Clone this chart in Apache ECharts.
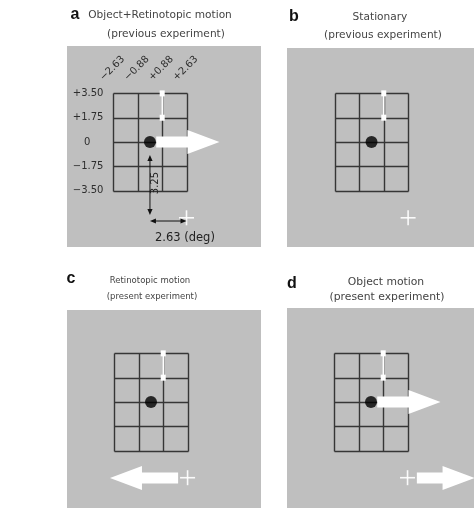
<!DOCTYPE html>
<html>
<head>
<meta charset="utf-8">
<script src="https://cdn.jsdelivr.net/npm/echarts@6/dist/echarts.min.js"></script>
<style>
  html, body { margin: 0; padding: 0; background: #ffffff; }
  #chart { width: 474px; height: 511px; }
</style>
</head>
<body>
<div id="chart"></div>
<script>
// Stimulus geometry, in degrees of visual angle
const colTicks = [-2.63, -0.88, 0.88, 2.63];
const colLabels = ['−2.63', '−0.88', '+0.88', '+2.63'];
const rowTicks = [3.50, 1.75, 0, -1.75, -3.50];
const rowLabels = ['+3.50', '+1.75', '0', '−1.75', '−3.50'];

const target = [0, 0];             // black disc
const probe = [0.88, 3.50, 1.75];  // white probe: x, upper y, lower y
const fixation = [2.63, -5.45];    // fixation cross

// Motion arrows: [x start, y, x tip]
const objectArrow = [0.45, 0, 5.0];
const retinotopicArrow = [1.95, -5.47, -2.95];
const fixationArrow = [3.3, -5.47, 7.45];
const panelArrows = [[objectArrow], [], [retinotopicArrow], [objectArrow, fixationArrow]];

// Distance annotations (panel a)
const verticalDistance = [0, -0.94, -5.25];      // x, y from, y to
const verticalDistanceLabel = '3.25';
const horizontalDistance = [-5.68, 0, fixation[0]]; // y, x from, x to
const horizontalDistanceLabel = '2.63 (deg)';

const panelLetters = ['a', 'b', 'c', 'd'];
const panelTitles = ['Object+Retinotopic motion', 'Stationary', 'Retinotopic motion', 'Object motion'];
const panelSubtitles = ['(previous experiment)', '(previous experiment)', '(present experiment)', '(present experiment)'];

// ---- layout ----
const FONT = '"DejaVu Sans", Verdana, sans-serif';
const panels = [
  { left: 67,  top: 46,  width: 194, height: 201, x: [-5.97, 7.99], y: [-7.55, 6.91] },
  { left: 287, top: 48,  width: 187, height: 199, x: [-6.08, 7.37], y: [-7.55, 6.76] },
  { left: 67,  top: 310, width: 194, height: 198, x: [-6.04, 7.91], y: [-7.63, 6.62] },
  { left: 287, top: 308, width: 187, height: 200, x: [-6.04, 7.41], y: [-7.63, 6.76] }
];
const headings = [
  { letter: [75, 15],  title: [160, 15],  sub: [166, 34],  size: 10.6 },
  { letter: [294, 17], title: [380, 17],  sub: [383, 35],  size: 10.6 },
  { letter: [71, 279], title: [150, 281], sub: [152, 297], size: 8.5 },
  { letter: [292, 284], title: [386, 282], sub: [387, 297], size: 10.8 }
];

// grid segments built from the tick values
const gridSegments = [];
rowTicks.forEach(function (r) { gridSegments.push([colTicks[0], r, colTicks[colTicks.length - 1], r]); });
colTicks.forEach(function (c) { gridSegments.push([c, rowTicks[0], c, rowTicks[rowTicks.length - 1]]); });

function segmentItem(params, api) {
  const a = api.coord([api.value(0), api.value(1)]);
  const b = api.coord([api.value(2), api.value(3)]);
  return {
    type: 'line',
    shape: { x1: Math.round(a[0]) + 0.5, y1: Math.round(a[1]) + 0.5, x2: Math.round(b[0]) + 0.5, y2: Math.round(b[1]) + 0.5 },
    style: { stroke: '#363636', lineWidth: 1.4 }
  };
}

function probeItem(params, api) {
  const top = api.coord([api.value(0), api.value(1)]);
  const bot = api.coord([api.value(0), api.value(2)]);
  return {
    type: 'group',
    children: [
      { type: 'line', shape: { x1: top[0], y1: top[1], x2: bot[0], y2: bot[1] }, style: { stroke: '#ffffff', lineWidth: 1.6 } },
      { type: 'rect', shape: { x: top[0] - 2.5, y: top[1] - 3, width: 5, height: 6 }, style: { fill: '#ffffff' } },
      { type: 'rect', shape: { x: bot[0] - 2.5, y: bot[1] - 3, width: 5, height: 6 }, style: { fill: '#ffffff' } }
    ]
  };
}

function arrowItem(params, api) {
  const a = api.coord([api.value(0), api.value(1)]);
  const b = api.coord([api.value(2), api.value(1)]);
  const dir = b[0] > a[0] ? 1 : -1;
  const headLen = 32, shaftH = 5.5, headH = 12;
  const hb = b[0] - dir * headLen;
  const y = a[1];
  return {
    type: 'polygon',
    shape: { points: [[a[0], y - shaftH], [hb, y - shaftH], [hb, y - headH], [b[0], y], [hb, y + headH], [hb, y + shaftH], [a[0], y + shaftH]] },
    style: { fill: '#ffffff' }
  };
}

function crossItem(params, api) {
  const p = api.coord([api.value(0), api.value(1)]);
  const arm = 7.5;
  const st = { stroke: 'rgba(255,255,255,0.92)', lineWidth: 1.6 };
  return {
    type: 'group',
    children: [
      { type: 'line', shape: { x1: p[0] - arm, y1: p[1], x2: p[0] + arm, y2: p[1] }, style: st },
      { type: 'line', shape: { x1: p[0], y1: p[1] - arm, x2: p[0], y2: p[1] + arm }, style: st }
    ]
  };
}

function headShape(tip, dx, dy) {
  // small filled arrowhead pointing along (dx, dy)
  const L = 6, W = 2.6;
  const bx = tip[0] - dx * L, by = tip[1] - dy * L;
  return { type: 'polygon', shape: { points: [tip, [bx - dy * W, by + dx * W], [bx + dy * W, by - dx * W]] }, style: { fill: '#111111' } };
}

function distanceItem(params, api) {
  const v0 = api.coord([verticalDistance[0], verticalDistance[1]]);
  const v1 = api.coord([verticalDistance[0], verticalDistance[2]]);
  const h0 = api.coord([horizontalDistance[1], horizontalDistance[0]]);
  const h1 = api.coord([horizontalDistance[2], horizontalDistance[0]]);
  const ln = { stroke: '#111111', lineWidth: 1 };
  return {
    type: 'group',
    children: [
      { type: 'line', shape: { x1: v0[0], y1: v0[1] + 3, x2: v1[0], y2: v1[1] - 3 }, style: ln },
      headShape(v0, 0, -1),
      headShape(v1, 0, 1),
      { type: 'line', shape: { x1: h0[0] + 3, y1: h0[1], x2: h1[0] - 3, y2: h1[1] }, style: ln },
      headShape(h0, -1, 0),
      headShape(h1, 1, 0),
      {
        type: 'text', x: v0[0] + 5, y: (v0[1] + v1[1]) / 2 - 2, rotation: Math.PI / 2,
        style: { text: verticalDistanceLabel, fill: '#222222', fontSize: 10, fontFamily: FONT, align: 'center', verticalAlign: 'middle' }
      },
      {
        type: 'text', x: h0[0] + 5, y: h0[1] + 17,
        style: { text: horizontalDistanceLabel, fill: '#222222', fontSize: 11.5, fontFamily: FONT, align: 'left', verticalAlign: 'middle' }
      }
    ]
  };
}

function rowLabelItem(params, api) {
  const p = api.coord([colTicks[0], api.value(0)]);
  const txt = rowLabels[params.dataIndex];
  const hasPoint = txt.indexOf('.') >= 0;
  return {
    type: 'text', x: p[0] - 10, y: p[1],
    style: {
      text: hasPoint ? txt : txt + '{pad| }',
      rich: { pad: { width: 13 } },
      fill: '#2e2e2e', fontSize: 10, fontFamily: FONT, align: 'right', verticalAlign: 'middle'
    }
  };
}

function colLabelItem(params, api) {
  const p = api.coord([api.value(0), rowTicks[0]]);
  return {
    type: 'text', x: p[0] - 1, y: p[1] - 25, rotation: Math.PI / 4,
    style: { text: colLabels[params.dataIndex], fill: '#2e2e2e', fontSize: 10, fontFamily: FONT, align: 'center', verticalAlign: 'middle' }
  };
}

const grid = [], xAxis = [], yAxis = [], series = [], graphic = [];

panels.forEach(function (p, i) {
  grid.push({ left: p.left, top: p.top, width: p.width, height: p.height, show: true, backgroundColor: '#bfbfbf', borderWidth: 0 });
  xAxis.push({ gridIndex: i, type: 'value', min: p.x[0], max: p.x[1], show: false });
  yAxis.push({ gridIndex: i, type: 'value', min: p.y[0], max: p.y[1], show: false });

  const ax = { xAxisIndex: i, yAxisIndex: i };
  series.push(Object.assign({ type: 'custom', renderItem: segmentItem, data: gridSegments }, ax));
  series.push(Object.assign({ type: 'custom', renderItem: probeItem, data: [probe] }, ax));
  if (panelArrows[i].length) {
    series.push(Object.assign({ type: 'custom', renderItem: arrowItem, data: panelArrows[i] }, ax));
  }
  series.push(Object.assign({ type: 'scatter', symbol: 'circle', symbolSize: 12, itemStyle: { color: '#000000' }, data: [target] }, ax));
  series.push(Object.assign({ type: 'custom', renderItem: crossItem, data: [fixation] }, ax));
  if (i === 0) {
    series.push(Object.assign({ type: 'custom', renderItem: rowLabelItem, data: rowTicks.map(function (v) { return [v]; }) }, ax));
    series.push(Object.assign({ type: 'custom', renderItem: colLabelItem, data: colTicks.map(function (v) { return [v]; }) }, ax));
    series.push(Object.assign({ type: 'custom', renderItem: distanceItem, data: [[0]] }, ax));
  }

  const h = headings[i];
  graphic.push({ type: 'text', x: h.letter[0], y: h.letter[1], style: { text: panelLetters[i], fill: '#111111', font: 'bold 16px "Liberation Sans", Arial, sans-serif', align: 'center', verticalAlign: 'middle' } });
  graphic.push({ type: 'text', x: h.title[0], y: h.title[1], style: { text: panelTitles[i], fill: '#444444', fontSize: h.size, fontFamily: FONT, align: 'center', verticalAlign: 'middle' } });
  graphic.push({ type: 'text', x: h.sub[0], y: h.sub[1], style: { text: panelSubtitles[i], fill: '#444444', fontSize: h.size, fontFamily: FONT, align: 'center', verticalAlign: 'middle' } });
});

const chart = echarts.init(document.getElementById('chart'), null, { renderer: 'canvas' });
chart.setOption({
  animation: false,
  backgroundColor: '#ffffff',
  grid: grid,
  xAxis: xAxis,
  yAxis: yAxis,
  series: series.map(function (s) { s.silent = true; return s; }),
  graphic: graphic
});
</script>
</body>
</html>
